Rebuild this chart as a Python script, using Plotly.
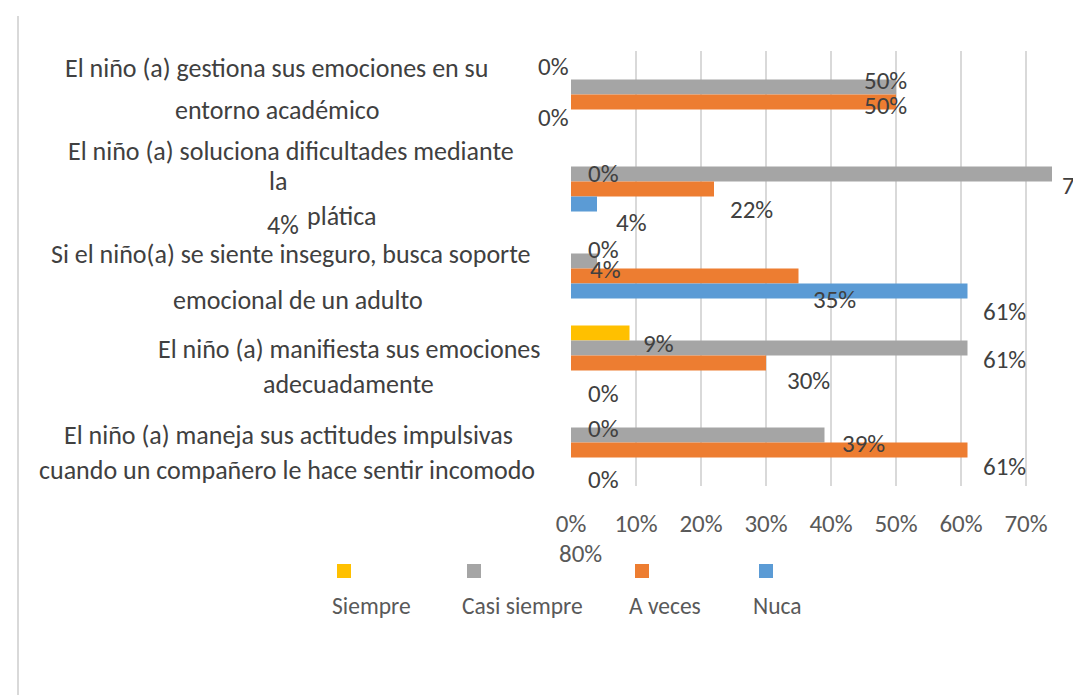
import plotly.graph_objects as go

# datos del gráfico (porcentajes)
categories = [
    "El niño (a) gestiona sus emociones en su entorno académico",
    "El niño (a) soluciona dificultades mediante la plática",
    "Si el niño(a) se siente inseguro, busca soporte emocional de un adulto",
    "El niño (a) manifiesta sus emociones adecuadamente",
    "El niño (a) maneja sus actitudes impulsivas cuando un compañero le hace sentir incomodo",
]
series_names = ["Siempre", "Casi siempre", "A veces", "Nuca"]
siempre = [0, 0, 0, 9, 0]
casi_siempre = [50, 74, 4, 61, 39]
a_veces = [50, 22, 35, 30, 61]
nuca = [0, 4, 61, 0, 0]
x_ticks = [0, 10, 20, 30, 40, 50, 60, 70]

# how the category labels wrap in the picture
category_lines = [
    ["El niño (a) gestiona sus emociones en su", "entorno académico"],
    ["El niño (a) soluciona dificultades mediante", "la", "plática", "4%"],
    ["Si el niño(a) se siente inseguro, busca soporte", "emocional de un adulto"],
    ["El niño (a) manifiesta sus emociones", "adecuadamente"],
    ["El niño (a) maneja sus actitudes impulsivas", "cuando un compañero le hace sentir incomodo"],
]

colors = ["#FFC000", "#A5A5A5", "#ED7D31", "#5B9BD5"]
values = [siempre, casi_siempre, a_veces, nuca]

# layout geometry (pixels)
L, T, W, H = 563, 43, 512, 435
FIG_W, FIG_H = 1081, 695
BARGAP = 0.31
FONT = "Carlito, Lato, sans-serif"
TXT = "#404040"


def px_x(px):
    return (px - L) / W


def px_y(py):
    return (T + H - py) / H


# line positions of the category text: (x centre px, offset from group centre px)
line_pos = [
    [(268, -27), (269, 15)],
    [(283, -31), (270, -1), (334, 34), (275, 43)],
    [(283, -15), (290, 31)],
    [(341, -7), (340, 28)],
    [(280, -8), (279, 27)],
]

# label nudges per series/category (dx, dy) as they sit in the picture
label_nudge = [
    [(-18, -5), (32, 15), (32, 4), (29, 11), (32, 9)],
    [(-11, -6), (16, 12), (8, 9), (37, 12), (39, 9)],
    [(-11, 3), (37, 20), (36, 23), (42, 17), (37, 16)],
    [(-18, 0), (34, 18), (37, 20), (32, 15), (32, 14)],
]

fig = go.Figure()
for name, vals, col in zip(series_names, values, colors):
    fig.add_trace(go.Bar(
        y=categories, x=vals, name=name, orientation="h",
        marker=dict(color=col, line=dict(width=0)),
        showlegend=False, hoverinfo="x+name",
    ))

annotations = []
step = H / len(categories) * (1 - BARGAP) / len(series_names)
for j, vals in enumerate(values):
    slot = (j - 1.5) * step
    for i, v in enumerate(vals):
        dx, dy = label_nudge[j][i]
        text = f"{v}%"
        if v == 74:
            text = "7"  # cut at the edge in the original
        annotations.append(dict(
            x=v, y=categories[i], xref="x", yref="y", text=text,
            showarrow=False, xanchor="center", yanchor="middle",
            xshift=dx, yshift=-(slot + dy),
            font=dict(family=FONT, size=25, color=TXT),
        ))

for i, lines in enumerate(category_lines):
    for line, (cx, dy) in zip(lines, line_pos[i]):
        annotations.append(dict(
            x=px_x(cx), y=categories[i], xref="paper", yref="y", text=line,
            showarrow=False, xanchor="center", yanchor="middle",
            yshift=-dy, font=dict(family=FONT, size=26, color=TXT),
        ))

# wrapped last tick label
annotations.append(dict(
    x=px_x(549), y=px_y(545), xref="paper", yref="paper", text="80%",
    showarrow=False, xanchor="left", yanchor="middle",
    font=dict(family=FONT, size=25, color="#595959"),
))

# custom legend: square above, name below
legend_sq = [336, 466, 634, 758]
legend_txt = [363, 514, 657, 769]
shapes = []
for name, col, sx, tx in zip(series_names, colors, legend_sq, legend_txt):
    shapes.append(dict(
        type="rect", xref="paper", yref="paper",
        x0=px_x(sx - 7), x1=px_x(sx + 7), y0=px_y(570), y1=px_y(556),
        fillcolor=col, line=dict(width=0),
    ))
    annotations.append(dict(
        x=px_x(tx), y=px_y(598), xref="paper", yref="paper", text=name,
        showarrow=False, xanchor="center", yanchor="middle",
        font=dict(family=FONT, size=23.5, color="#595959"),
    ))

# chart-area border (only the left edge is visible)
shapes.append(dict(
    type="line", xref="paper", yref="paper",
    x0=px_x(10), x1=px_x(10), y0=px_y(8), y1=px_y(FIG_H),
    line=dict(color="#D9D9D9", width=2),
))

fig.update_layout(
    width=FIG_W, height=FIG_H,
    margin=dict(l=L, r=FIG_W - L - W, t=T, b=FIG_H - T - H),
    paper_bgcolor="white", plot_bgcolor="white",
    barmode="group", bargap=BARGAP, bargroupgap=0,
    xaxis=dict(
        range=[0, W / 6.5], tickvals=x_ticks, ticktext=[f"{t}%" for t in x_ticks],
        showgrid=True, gridcolor="#D9D9D9", gridwidth=1.5,
        zeroline=False, showline=False, ticks="",
        tickfont=dict(family=FONT, size=25, color="#595959"),
        ticklabelstandoff=20,
    ),
    yaxis=dict(
        autorange="reversed", showticklabels=False, showgrid=False,
        zeroline=False, showline=False, ticks="",
    ),
    annotations=annotations,
    shapes=shapes,
)

fig.write_html("out.html")
